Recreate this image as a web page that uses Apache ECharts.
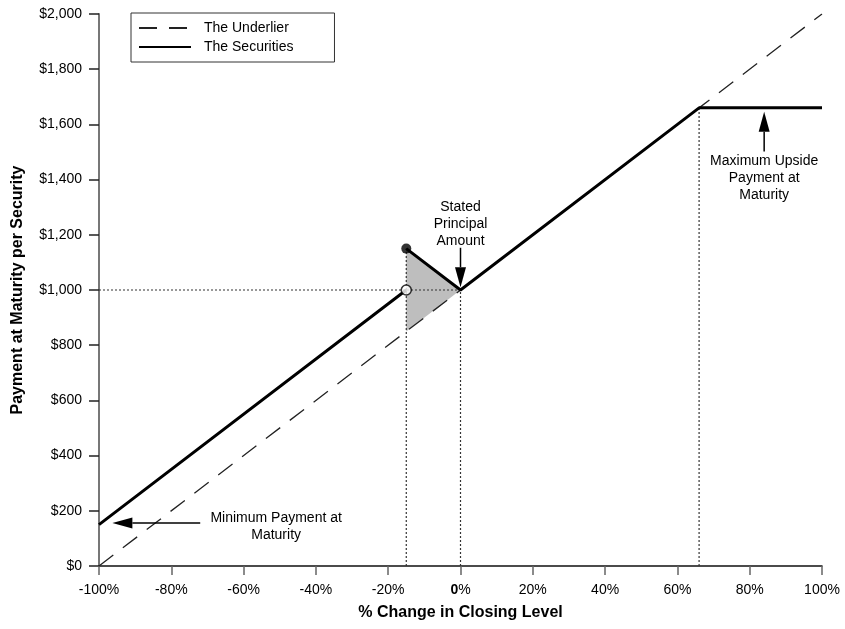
<!DOCTYPE html>
<html>
<head>
<meta charset="utf-8">
<script src="https://cdn.jsdelivr.net/npm/echarts@6/dist/echarts.min.js"></script>
<style>
	html, body { margin: 0; padding: 0; background: #fff; }
	#chart { width: 845px; height: 629px; }
</style>
</head>
<body>
<div id="chart"></div>
<script>
// payoff values, % change in closing level -> payment per security
var underlierData = [[-100, 0], [100, 2000]];
// ['-', '-'] breaks the line at the -15% jump
var securitiesData = [[-100, 150], [-15, 1000], ['-', '-'], [-15, 1150], [0, 1000], [66, 1660], [100, 1660]];
var shadeX = [-15, -15, 0];
var shadeY = [850, 1150, 1000];
var guideData = [[-100, 1000], [0, 1000], ['-', '-'], [-15, 0], [-15, 1150], ['-', '-'], [0, 0], [0, 1000], ['-', '-'], [66, 0], [66, 1660]];
var openDot = [-15, 1000];
var filledDot = [-15, 1150];
// arrows: [fromX, fromY, toX, toY]
var arrowData = [
	[0, 1153, 0, 1010],
	[84, 1502, 84, 1646],
	[-72, 156, -96.3, 156]
];
var noteText = ['Stated\nPrincipal\nAmount', 'Maximum Upside\nPayment at\nMaturity', 'Minimum Payment at\nMaturity'];
var notePos = [[0, 1240], [84, 1406], [-51, 144]];

var FONT = '"Liberation Sans", Arial, sans-serif';

function money(v) {
	return '$' + String(v).replace(/\B(?=(\d{3})+(?!\d))/g, ',');
}

var chart = echarts.init(document.getElementById('chart'));

var opt = {
	animation: false,
	textStyle: { fontFamily: FONT },
	grid: { left: 99, right: 23, top: 14, bottom: 63, containLabel: false, outerBoundsMode: 'none' },
	legend: {
		left: 131, top: 13,
		orient: 'vertical',
		data: ['The Underlier', 'The Securities'],
		itemWidth: 52, itemHeight: 14, itemGap: 5,
		padding: [8, 41, 8, 7],
		borderColor: '#333', borderWidth: 1,
		selectedMode: false,
		itemStyle: { opacity: 0 },
		textStyle: { fontFamily: FONT, fontSize: 14, color: '#000', padding: [0, 0, 0, 8] }
	},
	xAxis: {
		type: 'value', min: -100, max: 100, interval: 20,
		name: '% Change in Closing Level',
		nameLocation: 'middle', nameGap: 39,
		nameTextStyle: { fontFamily: FONT, fontSize: 16, fontWeight: 'bold', color: '#000' },
		axisLine: { onZero: false, lineStyle: { color: '#111', width: 1.5 } },
		axisTick: { length: 9, lineStyle: { color: '#666', width: 1.5 } },
		axisLabel: {
			margin: 17, fontSize: 14, color: '#000', fontFamily: FONT,
			formatter: function(v) { return v == 0 ? '{b|0}%' : v + '%'; },
			rich: { b: { fontWeight: 'bold', fontSize: 14, fontFamily: FONT, color: '#000' } }
		},
		splitLine: { show: false }
	},
	yAxis: {
		type: 'value', min: 0, max: 2000, interval: 200,
		name: 'Payment at Maturity per Security',
		nameLocation: 'middle', nameGap: 73,
		nameTextStyle: { fontFamily: FONT, fontSize: 16, fontWeight: 'bold', color: '#000' },
		axisLine: { show: true, onZero: false, lineStyle: { color: '#777', width: 2 } },
		axisTick: { show: true, length: 10, lineStyle: { color: '#222', width: 1.5 } },
		axisLabel: { margin: 17, fontSize: 14, color: '#000', fontFamily: FONT, formatter: money },
		splitLine: { show: false }
	},
	series: [
		{
			name: 'shade', type: 'custom', z: 1, silent: true,
			data: shadeX.map(function(x, i) { return [x, shadeY[i]]; }),
			renderItem: function(params, api) {
				if (params.dataIndex !== 0) return;
				var pts = shadeX.map(function(x, i) { return api.coord([x, shadeY[i]]); });
				return { type: 'polygon', shape: { points: pts }, style: { fill: '#bebebe' } };
			}
		},
		{
			name: 'guides', type: 'line', z: 2, silent: true,
			data: guideData, symbol: 'none', connectNulls: false,
			lineStyle: { color: '#333', width: 1.2, type: [2, 2] }
		},
		{
			name: 'The Underlier', type: 'line', z: 3,
			data: underlierData, symbol: 'none',
			lineStyle: { color: '#222', width: 1.3, type: [18, 12] },
			itemStyle: { color: '#222' }
		},
		{
			name: 'The Securities', type: 'line', z: 4,
			data: securitiesData, symbol: 'none', connectNulls: false,
			lineStyle: { color: '#000', width: 3 },
			itemStyle: { color: '#000' }
		},
		{
			name: 'dots', type: 'scatter', z: 5, silent: true,
			symbolSize: 10,
			data: [
				{ value: openDot, itemStyle: { color: '#fff', borderColor: '#000', borderWidth: 1.5 } },
				{ value: filledDot, itemStyle: { color: '#000' } }
			]
		},
		{
			name: 'arrows', type: 'custom', z: 6, silent: true,
			data: arrowData,
			renderItem: function(params, api) {
				var p0 = api.coord([api.value(0), api.value(1)]);
				var p1 = api.coord([api.value(2), api.value(3)]);
				var dx = p1[0] - p0[0], dy = p1[1] - p0[1];
				var len = Math.sqrt(dx * dx + dy * dy);
				var ux = dx / len, uy = dy / len;
				var headLen = 20, headW = 5.5;
				var bx = p1[0] - ux * headLen, by = p1[1] - uy * headLen;
				return {
					type: 'group',
					children: [
						{ type: 'line', shape: { x1: p0[0], y1: p0[1], x2: bx, y2: by }, style: { stroke: '#000', lineWidth: 1.5 } },
						{ type: 'polygon', shape: { points: [p1, [bx - uy * headW, by + ux * headW], [bx + uy * headW, by - ux * headW]] }, style: { fill: '#000' } }
					]
				};
			}
		},
		{
			name: 'notes', type: 'custom', z: 7, silent: true,
			data: notePos,
			renderItem: function(params, api) {
				var p = api.coord([api.value(0), api.value(1)]);
				return {
					type: 'text', x: p[0], y: p[1],
					style: {
						text: noteText[params.dataIndex],
						align: 'center', verticalAlign: 'middle',
						font: '14px ' + FONT, lineHeight: 17, fill: '#000'
					}
				};
			}
		}
	]
};

chart.setOption(opt);
</script>
</body>
</html>
